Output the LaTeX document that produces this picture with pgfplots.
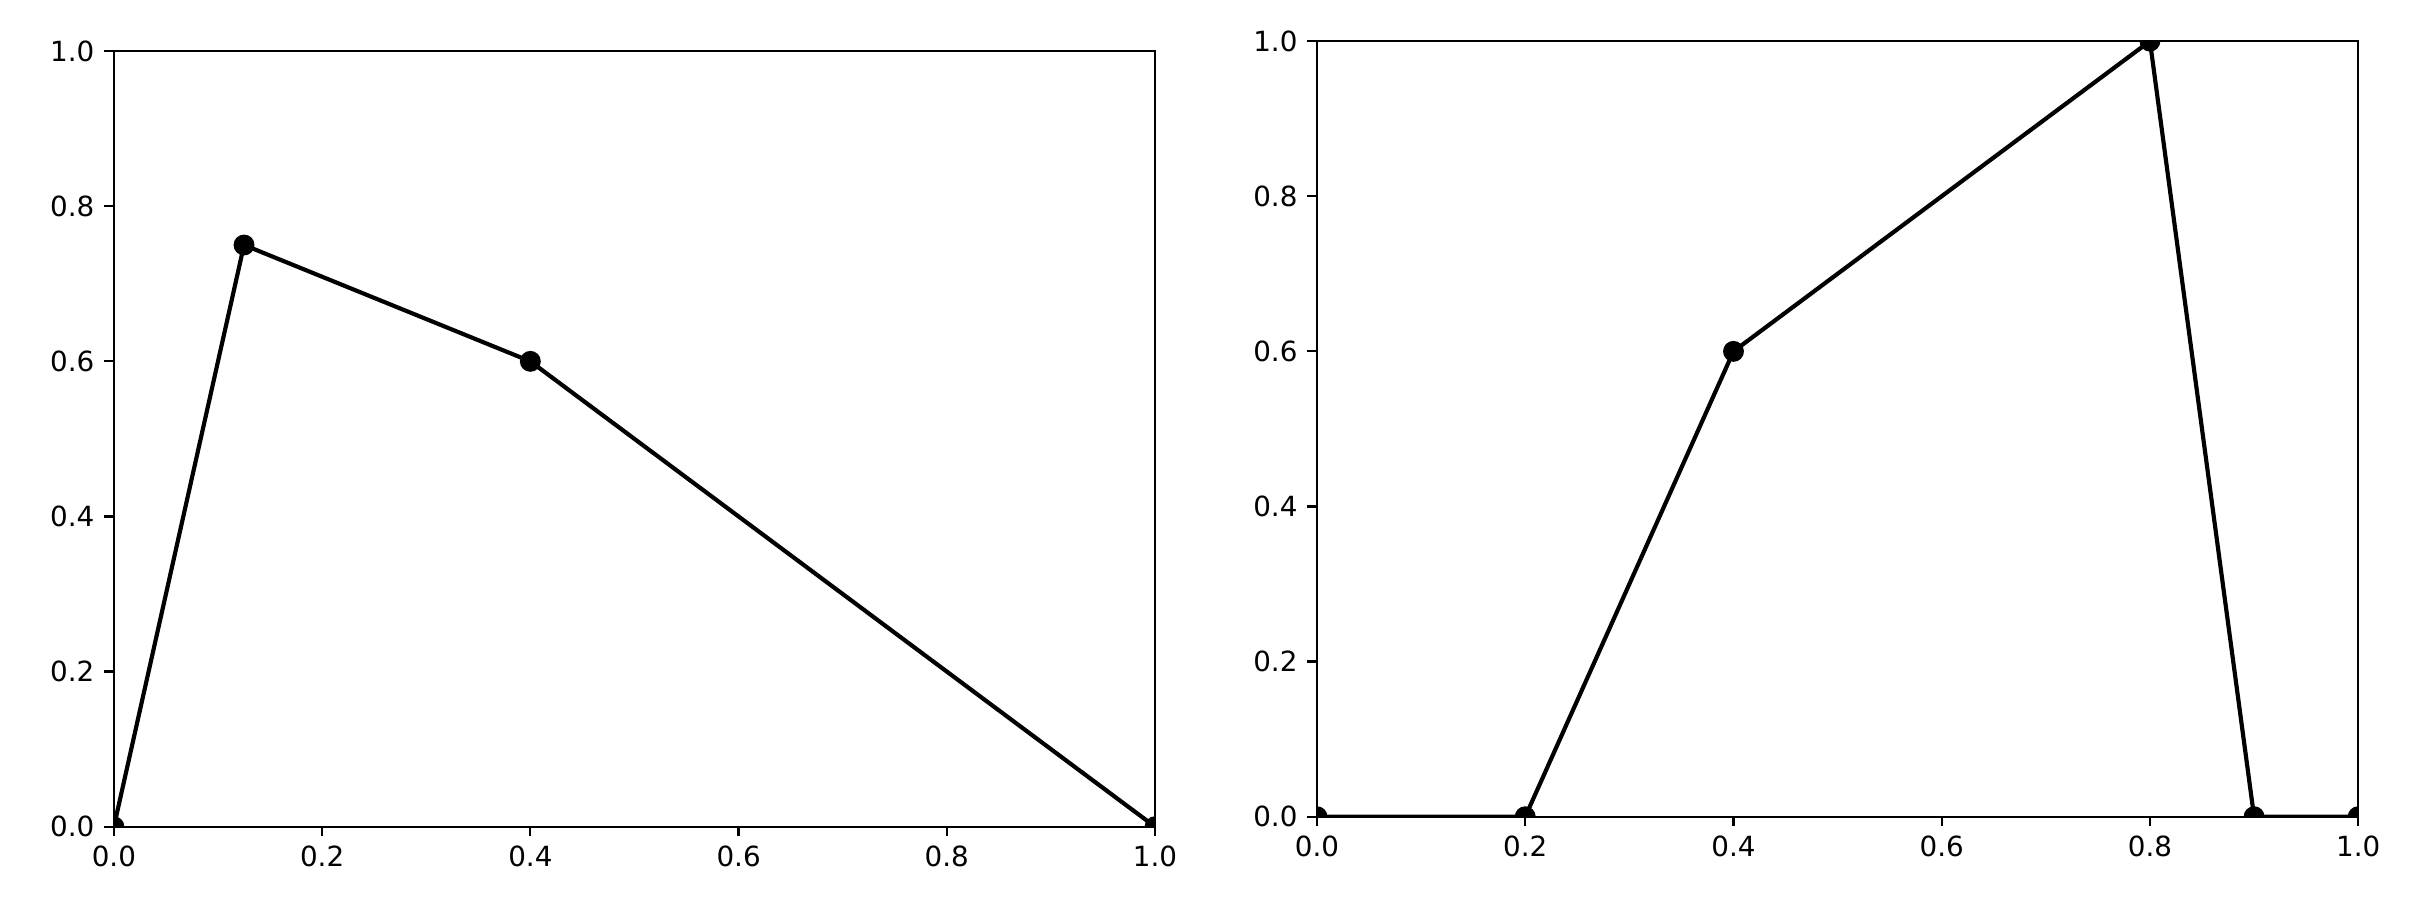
\documentclass[border=0pt]{standalone}
\usepackage{fontspec}
\setmainfont{DejaVu Sans}
\usepackage{pgfplots}
\pgfplotsset{compat=1.18}

\pgfplotsset{
  mplbox/.style={
    scale only axis, width=374.8pt, height=279.2pt,
    xmin=0, xmax=1, ymin=0, ymax=1,
    xtick={0,0.2,...,1.0}, ytick={0,0.2,...,1.0},
    xtick pos=bottom, ytick pos=left,
    tick align=outside, major tick length=3.5pt,
    every tick/.style={black, line width=0.8pt},
    axis line style={line width=0.8pt},
    tick label style={font=\fontsize{10}{12}\selectfont},
    /pgf/number format/assume math mode=true,
    /pgf/number format/.cd, fixed, fixed zerofill, precision=1, /pgfplots/.cd,
    clip marker paths=true,
  },
  mplline/.style={black, line width=1.5pt, mark=*, mark size=3pt, mark options={solid, fill=black}},
}

\begin{document}
\begin{tikzpicture}
\path (0,0) rectangle (867.2pt,-329.4pt);
\begin{axis}[mplbox, at={(41pt,-18.4pt)}, anchor=north west]
\addplot[mplline] coordinates {(0,0) (0.125,0.75) (0.4,0.6) (1,0)};
\end{axis}
\begin{axis}[mplbox, at={(474.1pt,-14.8pt)}, anchor=north west]
\addplot[mplline] coordinates {(0,0) (0.2,0) (0.4,0.6) (0.8,1) (0.9,0) (1,0)};
\end{axis}
\end{tikzpicture}
\end{document}
